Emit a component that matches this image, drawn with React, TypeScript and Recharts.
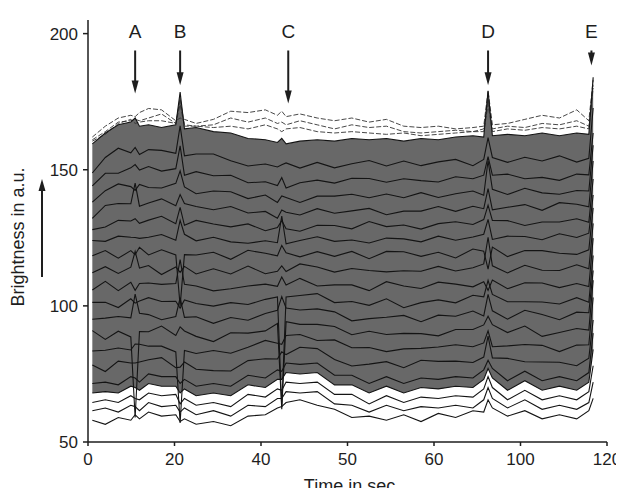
import React from 'react';
import { ComposedChart, Line, Area, XAxis, YAxis, ReferenceLine, ReferenceDot } from 'recharts';

// time points (axis position units, 0..120)
const times = [1, 4, 7, 9.9, 10.9, 11.9, 14, 17, 20.3, 21.3, 22.3, 25, 29, 33, 37, 41, 43.8, 44.8, 45.8, 49, 53, 57, 61, 65, 69, 73, 77, 81, 85, 89, 91.5, 92.5, 93.5, 97, 101, 105, 109, 113, 115.8, 116.8];

const xTicks = [0, 20, 40, 60, 80, 100, 120];
const xTickLabels = ['0', '20', '40', '50', '60', '100', '120'];
const yTicks = [50, 100, 150, 200];

// single cell traces, bottom to top
const trace00 = [58, 56.5, 59, 58, 60, 58.5, 61, 59.5, 60, 57.5, 58.5, 56.5, 57.5, 56, 59.5, 60, 62.5, 63, 64.5, 65.5, 63.5, 62, 59, 59.5, 58, 60, 57.5, 60.5, 59, 61.5, 61, 65.5, 62.5, 59.5, 61.5, 58.5, 60, 58.5, 61.5, 66];
const trace01 = [61.5, 62.5, 61, 63.5, 63, 61.5, 64.5, 63, 63.5, 61, 62.5, 60, 61.5, 59.5, 63.5, 63, 66, 66, 68.5, 68, 68.5, 64, 63.5, 61, 63.5, 61.5, 63, 62.5, 63.5, 62.5, 65.5, 70, 66, 62.5, 65.5, 62, 63.5, 62, 64.5, 72];
const trace02 = [64.5, 65.5, 64.5, 67, 66, 65.5, 68, 67, 67.5, 64, 66, 63.5, 64.5, 63, 67.5, 66.5, 69.5, 69, 72, 71.5, 72, 67.5, 67.5, 64, 67, 64.5, 66.5, 66, 67, 66.5, 69.5, 74, 70, 65.5, 69, 65.5, 67, 65.5, 68.5, 78];
const trace03 = [68, 68.5, 68, 70.5, 70, 69, 71.5, 70.5, 70.5, 68, 69.5, 67, 68, 67, 71, 70, 73, 73, 75.5, 75, 75.5, 71, 71, 68, 70.5, 68, 70, 69.5, 70.5, 70, 73, 77, 73.5, 69, 72.5, 69, 70.5, 69, 72, 84];
const trace04 = [71.5, 72, 71, 74, 73.5, 72, 75, 74, 74, 71.5, 73, 70.5, 71.5, 70.5, 74.5, 73.5, 76.5, 76, 79, 78.5, 79, 74.5, 74.5, 71.5, 74, 71.5, 73.5, 73, 74, 73.5, 76.5, 80, 77, 72.5, 76, 72.5, 74, 72.5, 75.5, 90];
const trace05 = [78.3, 75.9, 79.7, 79, 79, 79.4, 80.2, 81, 77.3, 77.5, 79.4, 76.7, 76.2, 76.1, 79.9, 80.6, 80.5, 83.1, 82.1, 84.8, 84.3, 80.3, 77.9, 78.6, 79.5, 77.3, 80, 79.6, 79.7, 79.2, 81.2, 88.9, 80.9, 80.7, 79.5, 79.4, 79.3, 78, 80.8, 94.8];
const trace06 = [83.4, 83.7, 84.5, 83.8, 86, 85.9, 85.2, 85.2, 83.1, 57, 83.6, 82.5, 83.6, 82.6, 84.8, 87.3, 86.3, 85.9, 89.1, 89.5, 87.3, 87.5, 84.6, 84.7, 83.2, 84.2, 84.4, 84.9, 85.7, 85, 86.4, 90.8, 85, 85.3, 85.8, 85.5, 83.2, 85.6, 85.7, 103.1];
const trace07 = [90.9, 87.7, 90.7, 88.6, 59, 90.6, 90.5, 92.6, 89.1, 92.3, 90.8, 88.8, 86.9, 90.1, 90, 90.8, 93.5, 62, 94.2, 93.2, 93.2, 92.4, 89.4, 90.7, 89.5, 89.9, 89.8, 89, 91.3, 91.3, 93, 96.2, 93.1, 90.2, 92.6, 88.8, 90.2, 91.7, 91.1, 109.4];
const trace08 = [95.1, 95.5, 96.1, 95.6, 104.3, 97.3, 96.8, 94.9, 96.1, 103, 95.8, 96, 93.6, 95.7, 94.7, 97.2, 98.4, 103.4, 99.2, 98.5, 98.9, 97.8, 94.5, 95.3, 95.8, 96.5, 94.2, 96.6, 96.2, 98.1, 96.3, 104.2, 98.2, 95.1, 98.4, 96.8, 94.9, 97.7, 97.5, 113];
const trace09 = [101.3, 101.3, 99.4, 102.6, 101, 101.8, 103, 101.6, 101.7, 99.2, 102.2, 100.9, 99.9, 101.2, 100.5, 102.4, 103.3, 63, 103.3, 103.8, 104.5, 101.2, 101.6, 100.2, 102.6, 99.3, 101.2, 102.2, 101.1, 103.9, 103.3, 109.4, 104.2, 101.5, 101.5, 101.4, 100.7, 103, 101.3, 118.5];
const trace10 = [105.8, 109, 105.6, 108.7, 105.7, 108.2, 108.4, 107.9, 108.2, 117, 107.9, 107.3, 105.5, 106.3, 107.3, 108, 107.2, 110.6, 107.7, 110.1, 107.3, 107.7, 107.7, 105.6, 108.9, 107.3, 106.4, 108.7, 108, 107, 108.9, 105.7, 109.5, 106.3, 108.5, 108.4, 106.7, 108.2, 107.1, 124.9];
const trace11 = [112.2, 114.4, 111.9, 114.2, 120, 113.9, 114.8, 111.5, 114.3, 112.3, 114.5, 111.7, 113.6, 111.7, 114.6, 111.8, 112.7, 114.7, 112.6, 115.4, 114.3, 112.4, 113.7, 113, 112.5, 112.9, 112.7, 114.5, 112.8, 114, 115.4, 125.2, 114.7, 112.1, 114.9, 113.1, 113, 115.1, 113.6, 130.3];
const trace12 = [118.4, 120.3, 117.5, 120.3, 118.8, 121.5, 118.7, 120.6, 118.7, 100, 118.8, 118.7, 119.7, 117.1, 120.4, 119.3, 118.4, 122.2, 119.5, 118, 119.9, 118.2, 120, 117.3, 120, 119.9, 118.2, 119.7, 117.6, 120.9, 120.1, 113.5, 121.6, 118.1, 120.3, 120.3, 119.3, 118.9, 120.6, 136];
const trace13 = [124, 123.7, 125.6, 125.2, 125.1, 124.8, 125.2, 126.2, 124.1, 131.4, 126.3, 123.9, 125.2, 123.5, 123, 123.9, 123.2, 133, 122.8, 124, 125.4, 123.7, 124.2, 123.1, 124.9, 124.6, 123.5, 125.6, 124.1, 125.3, 126.3, 131.8, 124.4, 125.6, 125.5, 124.3, 126.5, 125.1, 126.7, 140.7];
const trace14 = [128, 129, 131.4, 131.2, 132, 130.3, 131.5, 132.9, 130.2, 136.2, 129.6, 131.4, 130.1, 129, 130.1, 127.6, 128.8, 131.3, 128.3, 127.4, 129.6, 129.5, 128.3, 131, 129.1, 129.7, 128.2, 130.2, 130.9, 129.9, 131.7, 137, 131.4, 131.3, 129.5, 130.8, 130.8, 132, 130.7, 146.6];
const trace15 = [132.1, 136.9, 137.6, 137.5, 145.1, 136.6, 137.8, 139.3, 136.8, 140.9, 137.6, 136.5, 135.3, 136.5, 134.1, 134.7, 132.2, 135.2, 134.4, 133.4, 135.7, 134, 134.9, 135.8, 133.5, 134.8, 134.8, 136.5, 134.7, 136.6, 135.7, 143.1, 135.3, 136.2, 137.2, 135.1, 137.9, 137.3, 136.4, 153.2];
const trace16 = [138.1, 142.3, 144.8, 143.8, 142.4, 144.6, 143.5, 143.3, 145, 149.6, 143.7, 141.2, 142.2, 141.9, 139.4, 140.7, 138, 140.4, 139.8, 138, 140.3, 140.3, 141, 139.7, 141.1, 139.7, 141.6, 139.8, 141.2, 142.2, 140.6, 153.4, 142.8, 140.9, 143.2, 141.5, 141, 142.4, 142.2, 159];
const trace17 = [144.1, 148.7, 148.7, 150.7, 151.9, 149.9, 151.2, 149.5, 150.4, 158.8, 148, 149.3, 147.8, 148, 145.2, 145.6, 144.2, 147.1, 143.3, 145.2, 146.2, 145.1, 146.9, 146.8, 145.4, 146.7, 146, 145.5, 147.4, 146.7, 148, 154.8, 148, 148.4, 146.7, 147.2, 146.1, 148.4, 148.1, 163.5];
const trace18 = [148.8, 154.5, 157.9, 156.2, 158.2, 155.6, 157.4, 157.1, 156, 166.1, 155.1, 155.8, 155.8, 153.3, 151.4, 152.1, 151, 151.8, 152.5, 150.6, 152.7, 150.7, 152.2, 153.4, 151.4, 153.2, 151.5, 152.9, 153.8, 151.5, 153.8, 161.8, 154.5, 152.7, 154.6, 153.2, 155.1, 152.8, 154.2, 172.7];
const trace19 = [159.5, 163.5, 166.5, 167.5, 169, 166, 166.5, 165.5, 166.5, 178.5, 165, 165.5, 164, 163.5, 161.5, 161, 160, 161.5, 159.5, 160.5, 161, 160.5, 161.5, 161, 161.5, 160.5, 161.5, 161, 162, 162.5, 162, 179, 162.5, 163, 162.5, 163.5, 162.5, 163.5, 163, 184];

// the few brighter cells above the dense band
const upper0 = [162, 166, 169, 170, 169.5, 171, 172.5, 172, 168, 169, 168.5, 167, 168.5, 171.5, 171, 172, 170, 171.5, 169.5, 170.5, 169, 168, 169, 167.5, 168.5, 166, 165.5, 166, 165, 165.5, 166, 179, 166.5, 167, 168.5, 170, 169, 172, 168, 183];
const upper1 = [161, 164, 167.5, 168, 168.5, 168, 169, 170.5, 167, 176, 166.5, 166, 166.5, 169, 167.5, 169, 167, 167.5, 166.5, 168, 166.5, 165, 166.5, 165.5, 166, 164, 163.5, 164, 164.5, 164, 165, 176, 165, 166, 165.5, 167, 166.5, 168, 166, 181];
const upper2 = [160.5, 163, 167, 168.5, 167, 167.5, 168, 168, 167, 174, 166, 166, 165.5, 166, 165, 166.5, 165, 164, 165, 165.5, 164, 163.5, 164, 163.5, 163, 163.5, 162.5, 163, 163.5, 164, 164, 174, 164, 165, 164.5, 165.5, 165, 166, 165, 180];

const traces = [trace00, trace01, trace02, trace03, trace04, trace05, trace06, trace07, trace08, trace09,
  trace10, trace11, trace12, trace13, trace14, trace15, trace16, trace17, trace18, trace19];
const uppers = [upper0, upper1, upper2];

// stimulus markers
const markerLabels = ['A', 'B', 'C', 'D', 'E'];
const markerTimes = [10.9, 21.3, 46.3, 92.5, 116.4];
const markerTips = [178, 181, 174.3, 181, 188.3];
const markerTop = 193.8;

const chartData = times.map((t, i) => {
  const row: { [key: string]: number | number[] } = { t, band: [trace03[i], trace19[i]] };
  traces.forEach((tr, k) => { row['s' + k] = tr[i]; });
  uppers.forEach((tr, k) => { row['u' + k] = tr[i]; });
  return row;
});

const ink = '#1e1e1e';

const ArrowHead = (props: any) => {
  const { cx, cy } = props;
  return <path d={`M${cx - 3.5},${cy - 13} L${cx + 3.5},${cy - 13} L${cx},${cy} Z`} fill={ink} />;
};

const YLabel = (props: any) => {
  const vb = props.viewBox;
  const cx = vb.x + 18;
  const cy = vb.y + 217;
  return (
    <g>
      <text x={cx} y={cy} transform={`rotate(-90 ${cx} ${cy})`} textAnchor="middle" dominantBaseline="central" fontSize={18} fill={ink}>
        Brightness in a.u.
      </text>
      <line x1={vb.x + 42} y1={vb.y + 257} x2={vb.x + 42} y2={vb.y + 170} stroke={ink} strokeWidth={2} />
      <path d={`M${vb.x + 38.5},${vb.y + 171} L${vb.x + 45.5},${vb.y + 171} L${vb.x + 42},${vb.y + 159} Z`} fill={ink} />
    </g>
  );
};

const XLabel = (props: any) => {
  const vb = props.viewBox;
  return (
    <text x={vb.x + vb.width / 2 + 2} y={vb.y + 50} textAnchor="middle" fontSize={18} fill={ink}>
      Time in sec
    </text>
  );
};

const App: React.FC = () => {
  return (
    // pulled over the body margin so the chart covers the whole 624x496 page without scrollbars
    <div style={{ width: 624, height: 496, margin: -8, overflow: 'hidden', fontFamily: '"Liberation Sans", Arial, sans-serif' }}>
      <style>{'html, body { overflow: hidden; }'}</style>
      <ComposedChart width={624} height={496} data={chartData} margin={{ top: 20, right: 17, left: 0, bottom: 24 }}>
        <XAxis
          dataKey="t"
          type="number"
          domain={[0, 120]}
          ticks={xTicks}
          tickFormatter={(v: number) => xTickLabels[xTicks.indexOf(v)]}
          stroke={ink}
          strokeWidth={1.5}
          tickSize={4}
          tickMargin={7}
          height={30}
          tick={{ fontSize: 17, fill: ink }}
          label={XLabel}
        />
        <YAxis
          type="number"
          domain={[50, 205]}
          ticks={yTicks}
          stroke={ink}
          strokeWidth={1.5}
          tickSize={5}
          tickMargin={5}
          width={88}
          tick={{ fontSize: 17, fill: ink }}
          label={YLabel}
        />
        <Area dataKey="band" type="linear" fill="#686868" fillOpacity={1} stroke="none" isAnimationActive={false} />
        {uppers.map((_, k) => (
          <Line key={'u' + k} dataKey={'u' + k} type="linear" stroke="#333" strokeWidth={0.9} strokeDasharray="5 2" dot={false} isAnimationActive={false} />
        ))}
        {traces.map((_, k) => (
          <Line key={'s' + k} dataKey={'s' + k} type="linear" stroke="#141414" strokeWidth={1.1} dot={false} isAnimationActive={false} />
        ))}
        {markerTimes.map((t, i) => (
          <ReferenceLine
            key={'m' + i}
            segment={[{ x: t, y: markerTop }, { x: t, y: markerTips[i] + 4 }]}
            stroke={ink}
            strokeWidth={2}
            label={{ value: markerLabels[i], position: 'top', offset: 12, fontSize: 19, fill: ink }}
          />
        ))}
        {markerTimes.map((t, i) => (
          <ReferenceDot key={'h' + i} x={t} y={markerTips[i]} r={0} shape={ArrowHead} />
        ))}
      </ComposedChart>
    </div>
  );
};

export default App;
